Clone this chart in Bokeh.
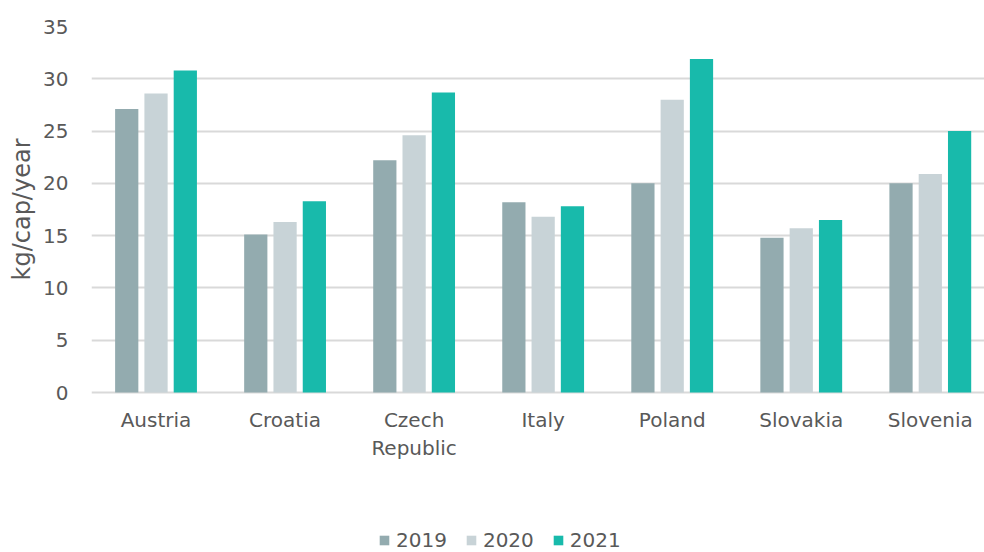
import numpy as np
from bokeh.plotting import figure
from bokeh.models import ColumnDataSource, Range1d, FixedTicker, Legend, LegendItem, Title
from bokeh.embed import file_html
from bokeh.resources import INLINE

countries = ["Austria", "Croatia", "Czech\nRepublic", "Italy", "Poland", "Slovakia", "Slovenia"]
years = ["2019", "2020", "2021"]
v2019 = [27.1, 15.1, 22.2, 18.2, 20.0, 14.8, 20.0]
v2020 = [28.6, 16.3, 24.6, 16.8, 28.0, 15.7, 20.9]
v2021 = [30.8, 18.3, 28.7, 17.8, 31.9, 16.5, 25.0]
colors = ["#93ABAF", "#C8D3D7", "#18BAAB"]
y_ticks = [0, 5, 10, 15, 20, 25, 30, 35]

FONT = "DejaVu Sans"
TXT = "#595959"

# frame runs to the bottom of the canvas; the area below y=0 holds the
# category labels and the legend
p = figure(width=984, height=552, output_backend="svg", toolbar_location=None,
           x_range=Range1d(0, 6.92), y_range=Range1d(-15.3, 35),
           min_border_left=91, min_border_top=26, min_border_bottom=0, min_border_right=0)

centers = np.arange(len(countries)) + 0.5
offsets = [-0.227, 0.0, 0.227]
renderers = []
for vals, off, col in zip([v2019, v2020, v2021], offsets, colors):
    src = ColumnDataSource(dict(x=centers + off, top=vals))
    r = p.vbar(x="x", top="top", bottom=0, width=0.18, source=src,
               fill_color=col, line_color=None)
    renderers.append(r)

p.xaxis.ticker = FixedTicker(ticks=list(centers))
p.xaxis.major_label_overrides = {float(c): n for c, n in zip(centers, countries)}
p.xaxis.fixed_location = 0
p.yaxis.ticker = FixedTicker(ticks=y_ticks)

for ax in (p.xaxis[0], p.yaxis[0]):
    ax.axis_line_color = None
    ax.major_tick_line_color = None
    ax.minor_tick_line_color = None
    ax.major_label_text_font = FONT
    ax.major_label_text_font_size = "20px"
    ax.major_label_text_color = TXT
p.yaxis.major_label_standoff = 17
p.xaxis.major_label_standoff = 9

ylabel = Title(text="kg/cap/year", align="right", offset=112, standoff=10,
               text_font=FONT, text_font_size="24px", text_font_style="normal",
               text_color=TXT)
p.add_layout(ylabel, "left")

p.xgrid.grid_line_color = None
p.ygrid.grid_line_color = "#D9D9D9"
p.ygrid.grid_line_width = 2
p.outline_line_color = None

legend = Legend(items=[LegendItem(label=y, renderers=[r]) for y, r in zip(years, renderers)],
                orientation="horizontal", location=(287, 0),
                glyph_width=12, glyph_height=12, label_standoff=6, spacing=18,
                padding=0, margin=0, border_line_color=None, background_fill_alpha=0,
                label_text_font=FONT, label_text_font_size="20px", label_text_color=TXT)
p.add_layout(legend, "center")

open("out.html", "w").write(file_html(p, INLINE))
